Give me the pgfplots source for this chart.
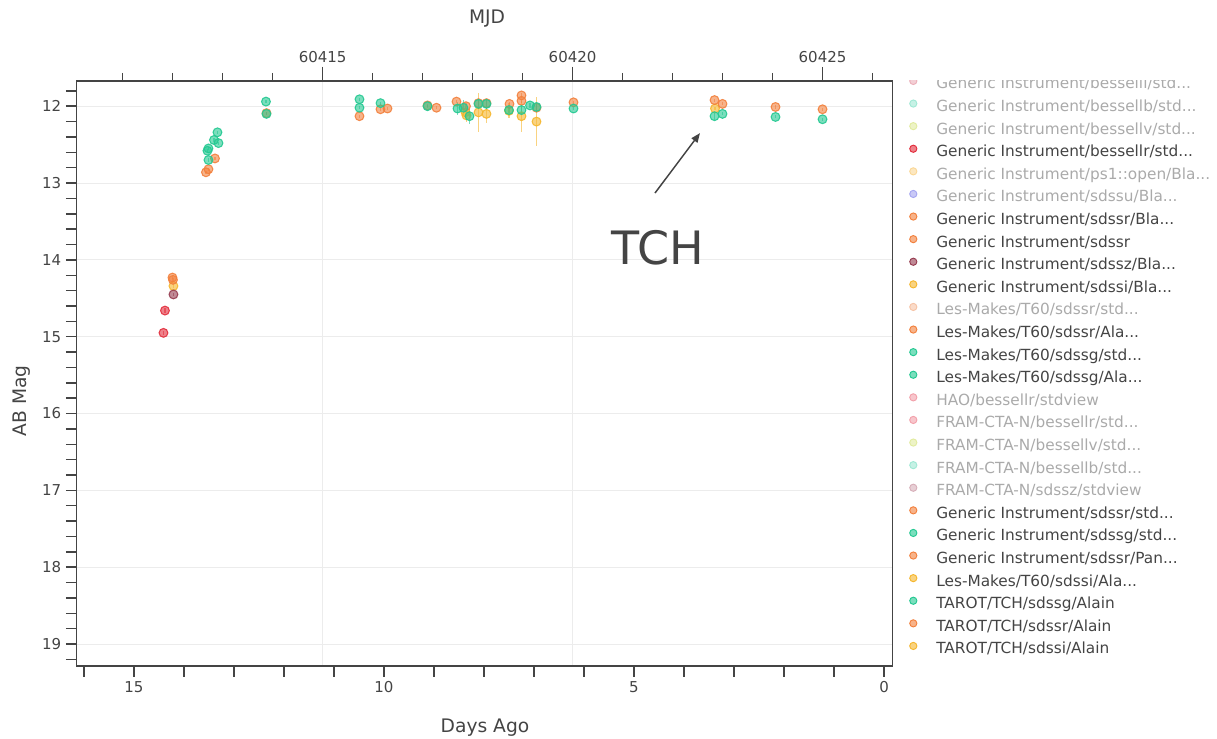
\documentclass[border=0pt]{standalone}
\usepackage{pgfplots}
\pgfplotsset{compat=1.18}
\usepackage{pgfplotstable}
\usetikzlibrary{arrows.meta}
\usepackage{fontspec}
\setmainfont{DejaVu Sans}
\setsansfont{DejaVu Sans}

% filter colours
\definecolor{cG}{RGB}{35,200,145}
\definecolor{cR}{RGB}{242,128,60}
\definecolor{cI}{RGB}{245,182,45}
\definecolor{cRed}{RGB}{226,45,60}
\definecolor{cZ}{RGB}{150,60,80}
% faded colours of hidden traces
\definecolor{hI}{RGB}{235,175,185}
\definecolor{hB}{RGB}{160,232,212}
\definecolor{hV}{RGB}{225,235,160}
\definecolor{hP}{RGB}{250,215,150}
\definecolor{hU}{RGB}{165,165,240}
\definecolor{hR}{RGB}{246,195,165}
\definecolor{hH}{RGB}{242,160,170}
\definecolor{hZ}{RGB}{215,175,185}
% text and frame
\definecolor{ink}{RGB}{68,68,68}
\definecolor{faded}{RGB}{170,170,170}
\definecolor{gridc}{RGB}{236,236,236}

% days ago, magnitude, error
\pgfplotstableread{
d m e
14.38 14.66 0.03
14.41 14.95 0.03
}\tabRed
\pgfplotstableread{
d m e
14.21 14.45 0.02
}\tabZ
\pgfplotstableread{
d m e
14.21 14.34 0.03
8.37 12.08 0.03
8.35 12.12 0.08
8.11 12.08 0.25
7.95 12.10 0.12
7.50 12.06 0.10
7.25 12.13 0.20
6.95 12.20 0.32
3.38 12.03 0.02
}\tabI
\pgfplotstableread{
d m e
14.23 14.23 0.02
14.22 14.26 0.02
13.38 12.68 0.02
13.51 12.82 0.02
13.56 12.86 0.02
12.35 12.09 0.02
10.49 12.13 0.02
10.07 12.04 0.02
9.93 12.03 0.02
9.13 11.99 0.02
8.95 12.02 0.02
8.55 11.94 0.02
8.36 12.00 0.04
8.11 11.96 0.04
7.95 11.96 0.04
7.49 11.97 0.03
7.25 11.86 0.03
7.25 11.93 0.03
6.95 12.02 0.04
6.21 11.95 0.02
3.39 11.92 0.02
3.23 11.97 0.02
2.17 12.01 0.02
1.23 12.04 0.02
}\tabR
\pgfplotstableread{
d m e
13.33 12.34 0.02
13.40 12.44 0.02
13.31 12.48 0.02
13.51 12.55 0.02
13.53 12.58 0.02
13.51 12.70 0.02
12.36 11.94 0.02
12.35 12.10 0.02
10.49 11.91 0.02
10.49 12.02 0.02
10.07 11.96 0.02
9.13 12.00 0.02
8.53 12.03 0.08
8.41 12.02 0.10
8.29 12.13 0.10
8.11 11.97 0.05
7.95 11.97 0.05
7.50 12.05 0.04
7.25 12.05 0.05
7.08 11.99 0.03
6.95 12.01 0.05
6.21 12.03 0.02
3.39 12.13 0.05
3.23 12.10 0.02
2.17 12.14 0.02
1.23 12.17 0.02
}\tabG

\pgfplotsset{
  pt/.style={only marks, mark=*, mark size=3.3bp,
    mark options={fill=#1, fill opacity=0.6, draw=#1, draw opacity=0.9, line width=0.8bp},
    error bars/y dir=both, error bars/y explicit, error bars/error mark=none,
    error bars/error bar style={#1, opacity=0.6, line width=1.2bp}},
  lg/.style={draw=#1, fill=#1, fill opacity=0.6, line width=0.7bp},
}

\begin{document}
\begin{tikzpicture}
\path[use as bounding box] (0bp,0bp) rectangle (912.75bp,554.25bp);

% top axis: MJD
\begin{axis}[
  at={(57.5bp,54.75bp)}, anchor=south west,
  scale only axis, width=611.9bp, height=438.75bp,
  xmin=60410.08, xmax=60426.40, ymin=0, ymax=1,
  axis x line*=top, axis y line=none,
  scaled x ticks=false,
  xtick={60415,60420,60425}, minor xtick={60411,...,60426},
  tick align=outside, major tick length=10.5bp, minor tick length=6bp,
  /pgf/number format/assume math mode=true,
  xticklabel style={font=\fontsize{11.25bp}{13bp}\selectfont, text=ink, /pgf/number format/1000 sep={}},
  extra x ticks={60415,60420}, extra x tick labels={},
  extra x tick style={grid=major},
  grid style={gridc, line width=0.8bp},
  axis line style={ink, line width=1.1bp},
  every tick/.style={ink, line width=1.1bp},
  xlabel={MJD},
  xlabel style={at={(0.503,1.106)}, anchor=center, font=\fontsize{14bp}{16bp}\selectfont, text=ink},
]
\end{axis}

% main axis: days ago vs AB magnitude
\begin{axis}[
  at={(57.5bp,54.75bp)}, anchor=south west,
  scale only axis, width=611.9bp, height=438.75bp,
  xmin=-0.17, xmax=16.146, x dir=reverse,
  ymin=11.672, ymax=19.286, y dir=reverse,
  xtick={0,5,10,15}, minor xtick={1,...,16},
  ytick={12,...,19},
  minor ytick={11.8,12.2,12.4,12.6,12.8,13.2,13.4,13.6,13.8,14.2,14.4,14.6,14.8,15.2,15.4,15.6,15.8,16.2,16.4,16.6,16.8,17.2,17.4,17.6,17.8,18.2,18.4,18.6,18.8,19.2},
  xtick pos=bottom, ytick pos=left,
  tick align=outside, major tick length=8bp, minor tick length=8bp,
  /pgf/number format/assume math mode=true,
  tick label style={font=\fontsize{11.25bp}{13bp}\selectfont, text=ink},
  ymajorgrids, grid style={gridc, line width=0.8bp},
  axis line style={ink, line width=1.1bp},
  every tick/.style={ink, line width=1.1bp},
  xlabel={Days Ago},
  xlabel style={at={(0.5005,-0.106)}, anchor=center, font=\fontsize{14bp}{16bp}\selectfont, text=ink},
  ylabel={AB Mag},
  ylabel style={at={(-0.067,0.453)}, anchor=center, rotate=0, font=\fontsize{14bp}{16bp}\selectfont, text=ink},
  legend cell align=left,
  legend style={at={(1.0186,1.0075)}, anchor=north west, draw=none, fill=none,
    inner sep=0pt, row sep=5.5bp,
    font=\fontsize{11.5bp}{13bp}\selectfont,
    nodes={inner sep=0pt, text height=8.5bp, text depth=2.5bp}},
  legend image code/.code={%
    \path[draw=none, fill=none] (-4bp,0bp) rectangle (17.25bp,0.1bp);
    \path[#1] (0bp,2.9bp) circle[radius=2.7bp];},
]
\addlegendimage{lg=hI}\addlegendentry{\textcolor{faded}{Generic Instrument/besselli/std...}}
\addlegendimage{lg=hB}\addlegendentry{\textcolor{faded}{Generic Instrument/bessellb/std...}}
\addlegendimage{lg=hV}\addlegendentry{\textcolor{faded}{Generic Instrument/bessellv/std...}}
\addlegendimage{lg=cRed}\addlegendentry{\textcolor{ink}{Generic Instrument/bessellr/std...}}
\addlegendimage{lg=hP}\addlegendentry{\textcolor{faded}{Generic Instrument/ps1::open/Bla...}}
\addlegendimage{lg=hU}\addlegendentry{\textcolor{faded}{Generic Instrument/sdssu/Bla...}}
\addlegendimage{lg=cR}\addlegendentry{\textcolor{ink}{Generic Instrument/sdssr/Bla...}}
\addlegendimage{lg=cR}\addlegendentry{\textcolor{ink}{Generic Instrument/sdssr}}
\addlegendimage{lg=cZ}\addlegendentry{\textcolor{ink}{Generic Instrument/sdssz/Bla...}}
\addlegendimage{lg=cI}\addlegendentry{\textcolor{ink}{Generic Instrument/sdssi/Bla...}}
\addlegendimage{lg=hR}\addlegendentry{\textcolor{faded}{Les-Makes/T60/sdssr/std...}}
\addlegendimage{lg=cR}\addlegendentry{\textcolor{ink}{Les-Makes/T60/sdssr/Ala...}}
\addlegendimage{lg=cG}\addlegendentry{\textcolor{ink}{Les-Makes/T60/sdssg/std...}}
\addlegendimage{lg=cG}\addlegendentry{\textcolor{ink}{Les-Makes/T60/sdssg/Ala...}}
\addlegendimage{lg=hH}\addlegendentry{\textcolor{faded}{HAO/bessellr/stdview}}
\addlegendimage{lg=hH}\addlegendentry{\textcolor{faded}{FRAM-CTA-N/bessellr/std...}}
\addlegendimage{lg=hV}\addlegendentry{\textcolor{faded}{FRAM-CTA-N/bessellv/std...}}
\addlegendimage{lg=hB}\addlegendentry{\textcolor{faded}{FRAM-CTA-N/bessellb/std...}}
\addlegendimage{lg=hZ}\addlegendentry{\textcolor{faded}{FRAM-CTA-N/sdssz/stdview}}
\addlegendimage{lg=cR}\addlegendentry{\textcolor{ink}{Generic Instrument/sdssr/std...}}
\addlegendimage{lg=cG}\addlegendentry{\textcolor{ink}{Generic Instrument/sdssg/std...}}
\addlegendimage{lg=cR}\addlegendentry{\textcolor{ink}{Generic Instrument/sdssr/Pan...}}
\addlegendimage{lg=cI}\addlegendentry{\textcolor{ink}{Les-Makes/T60/sdssi/Ala...}}
\addlegendimage{lg=cG}\addlegendentry{\textcolor{ink}{TAROT/TCH/sdssg/Alain}}
\addlegendimage{lg=cR}\addlegendentry{\textcolor{ink}{TAROT/TCH/sdssr/Alain}}
\addlegendimage{lg=cI}\addlegendentry{\textcolor{ink}{TAROT/TCH/sdssi/Alain}}

\addplot[pt=cI, forget plot] table[x=d, y=m, y error=e] {\tabI};
\addplot[pt=cR, forget plot] table[x=d, y=m, y error=e] {\tabR};
\addplot[pt=cG, forget plot] table[x=d, y=m, y error=e] {\tabG};
\addplot[pt=cZ, forget plot] table[x=d, y=m, y error=e] {\tabZ};
\addplot[pt=cRed, forget plot] table[x=d, y=m, y error=e] {\tabRed};

% annotation
\node[font=\fontsize{34.5bp}{40bp}\selectfont, text=ink] at (axis cs:4.52,13.846) {TCH};
\draw[ink, line width=1.1bp, -{Triangle[length=7bp, width=5.5bp]}] (axis cs:4.58,13.13) -- (axis cs:3.68,12.35);
\end{axis}

% legend list scrolled past its first row
\fill[white] (675bp,494.25bp) rectangle (912.75bp,554.25bp);
\end{tikzpicture}
\end{document}
